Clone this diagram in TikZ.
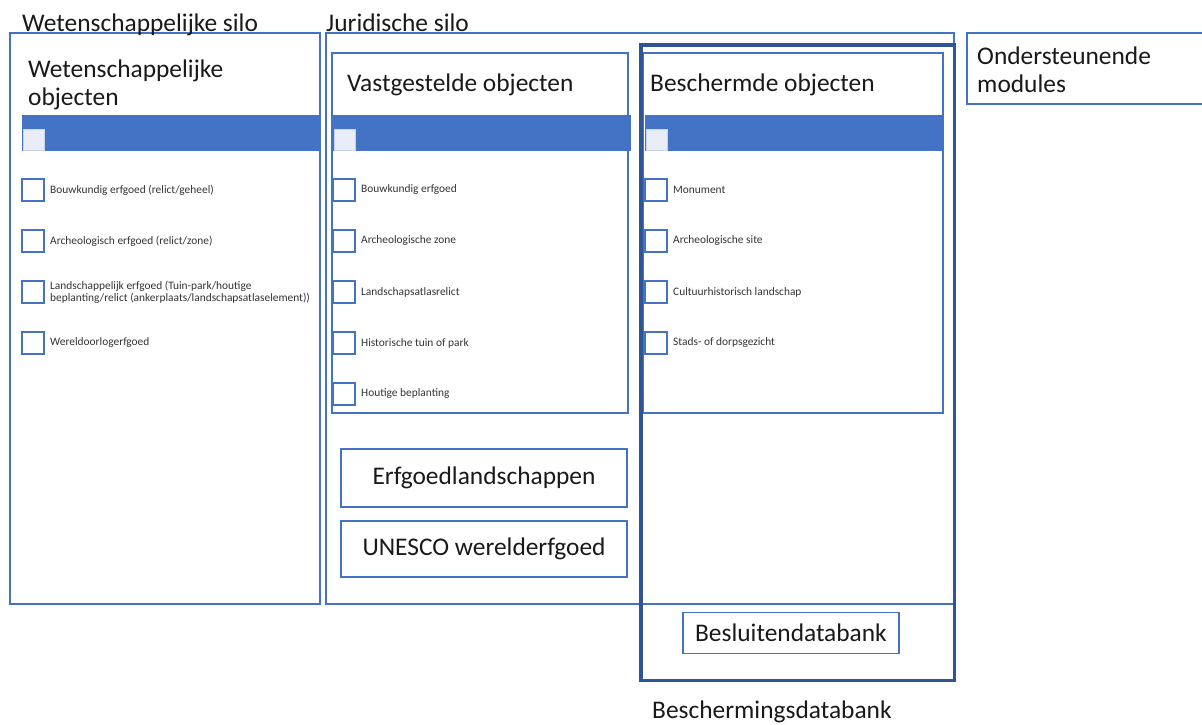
\documentclass[tikz,border=0pt]{standalone}
\usepackage{fontspec}
\setmainfont{Carlito}
\usetikzlibrary{positioning}
\definecolor{lijnblauw}{HTML}{4472C4}
\definecolor{bandblauw}{HTML}{4472C4}
\definecolor{donkerblauw}{HTML}{2F5597}
\definecolor{vakvulling}{HTML}{E9EDF7}
\newcommand{\groot}{\fontsize{25.4}{28}\selectfont}
\newcommand{\klein}{\fontsize{11.4}{12}\selectfont}
\tikzset{
  frame/.style={draw=lijnblauw, line width=1.2pt, inner sep=0pt, outer sep=0pt, anchor=north west},
  dbframe/.style={draw=donkerblauw, line width=3.5pt, inner sep=0pt, outer sep=0pt, anchor=north west},
  band/.style={fill=bandblauw, inner sep=0pt, outer sep=0pt, anchor=north west, minimum height=36pt},
  bandvak/.style={fill=vakvulling, draw=vakvulling!80!lijnblauw, line width=0.6pt, minimum size=21pt, inner sep=0pt, outer sep=0pt, anchor=north west},
  checkbox/.style={draw=lijnblauw, line width=1.3pt, minimum size=22pt, inner sep=0pt, outer sep=0pt, anchor=north west},
  itemtext/.style={font=\klein, text=black!80, inner sep=0pt, align=left},
  title/.style={font=\groot, text=black!90, inner sep=0pt, anchor=base west, align=left},
  labelbox/.style={draw=lijnblauw, line width=1.2pt, font=\groot, text=black!90, inner sep=0pt, outer sep=0pt},
}

\begin{document}
\begin{tikzpicture}[x=1pt, y=-1pt]
    \useasboundingbox (0,0) rectangle (1202,724);
    % silo's
    \node[frame, minimum width=310pt, minimum height=571pt] (wsilo) at (10,33) {};
    \node[frame, minimum width=628pt, minimum height=571pt] (jsilo) at (326,33) {};
    \node[title] (wsilotitel) at (22,31) {Wetenschappelijke silo};
    \node[title] (jsilotitel) at (326,31) {Juridische silo};
    \node[frame, minimum width=236pt, minimum height=71pt] (modules) at (967,33) {};
    \node[title] (modulestitel) at (977,92) {Ondersteunende\\modules};

    % wetenschappelijke objecten
    \node[title] (wobjtitel) at (28,105) {Wetenschappelijke\\objecten};
    \node[band, minimum width=298pt] (wband) at (22,115) {};
    \node[bandvak] (wbandvak) at (23,129) {};
    \node[checkbox] (wvak1) at (22,179) {};
    \node[checkbox] (wvak2) at (22,230) {};
    \node[checkbox] (wvak3) at (22,281) {};
    \node[checkbox] (wvak4) at (22,332) {};
    \node[itemtext, right=6pt of wvak1] (wtxt1) {Bouwkundig erfgoed (relict/geheel)};
    \node[itemtext, right=6pt of wvak2] (wtxt2) {Archeologisch erfgoed (relict/zone)};
    \node[itemtext, right=6pt of wvak3] (wtxt3) {Landschappelijk erfgoed (Tuin-park/houtige\\beplanting/relict (ankerplaats/landschapsatlaselement))};
    \node[itemtext, right=6pt of wvak4] (wtxt4) {Wereldoorlogerfgoed};

    % vastgestelde objecten
    \node[frame, minimum width=296pt, minimum height=360pt] (vobj) at (332,53) {};
    \node[title] (vobjtitel) at (347,91) {Vastgestelde objecten};
    \node[band, minimum width=298pt] (vband) at (333,115) {};
    \node[bandvak] (vbandvak) at (334,129) {};
    \node[checkbox] (vvak1) at (333,179) {};
    \node[checkbox] (vvak2) at (333,230) {};
    \node[checkbox] (vvak3) at (333,281) {};
    \node[checkbox] (vvak4) at (333,332) {};
    \node[checkbox] (vvak5) at (333,383) {};
    \node[itemtext, right=6pt of vvak1] (vtxt1) {Bouwkundig erfgoed};
    \node[itemtext, right=6pt of vvak2] (vtxt2) {Archeologische zone};
    \node[itemtext, right=6pt of vvak3] (vtxt3) {Landschapsatlasrelict};
    \node[itemtext, right=6pt of vvak4] (vtxt4) {Historische tuin of park};
    \node[itemtext, right=6pt of vvak5] (vtxt5) {Houtige beplanting};

    \node[labelbox, minimum width=286pt, minimum height=58pt] (erfland) at (484,478) {Erfgoedlandschappen};
    \node[labelbox, minimum width=286pt, minimum height=56pt] (unesco) at (484,549) {UNESCO werelderfgoed};

    % beschermde objecten
    \node[frame, minimum width=300pt, minimum height=360pt] (bobj) at (643,53) {};
    \node[title] (bobjtitel) at (650,91) {Beschermde objecten};
    \node[band, minimum width=297.5pt] (bband) at (645,115) {};
    \node[bandvak] (bbandvak) at (646,129) {};
    \node[checkbox] (bvak1) at (645,179) {};
    \node[checkbox] (bvak2) at (645,230) {};
    \node[checkbox] (bvak3) at (645,281) {};
    \node[checkbox] (bvak4) at (645,332) {};
    \node[itemtext, right=6pt of bvak1] (btxt1) {Monument};
    \node[itemtext, right=6pt of bvak2] (btxt2) {Archeologische site};
    \node[itemtext, right=6pt of bvak3] (btxt3) {Cultuurhistorisch landschap};
    \node[itemtext, right=6pt of bvak4] (btxt4) {Stads- of dorpsgezicht};

    % beschermingsdatabank
    \node[dbframe, minimum width=313.5pt, minimum height=635.5pt] (db) at (641,45) {};
    \node[labelbox, minimum width=216pt, minimum height=41pt] (besluit) at (791,633) {Besluitendatabank};
    \node[title] (dbtitel) at (652,718) {Beschermingsdatabank};
\end{tikzpicture}
\end{document}
